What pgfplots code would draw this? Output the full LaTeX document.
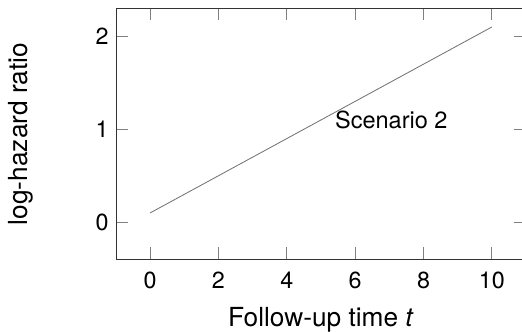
\documentclass[border=0pt]{standalone}
\usepackage{fontspec}
\setmainfont{TeX Gyre Heros}
\usepackage{pgfplots}
\pgfplotsset{compat=1.18}
\begin{document}
\begin{tikzpicture}
\begin{axis}[
  scale only axis, width=195.2pt, height=119.5pt,
  xmin=-1, xmax=11, ymin=-0.4, ymax=2.3,
  xtick={0,2,...,10}, ytick={0,1,2},
  major tick length=5.7pt,
  /pgf/number format/assume math mode=true,
  tick label style={font=\fontsize{11.1}{13}\selectfont},
  label style={font=\fontsize{12.5}{15}\selectfont},
  xticklabel style={anchor=base, yshift=-13.8pt},
  xlabel={Follow-up time \textit{t}},
  ylabel={log-hazard ratio},
  xlabel style={at={(axis description cs:0.5,-0.2685)}, anchor=base},
  ylabel style={at={(axis description cs:-0.2317,0.5)}, anchor=center},
  axis line style={black!80},
  every tick/.style={black!50},
]
\addplot[black!55, no marks] coordinates {(0,0.1) (10,2.1)};
\node[anchor=west, font=\fontsize{11.2}{13}\selectfont, inner sep=0pt] at (axis cs:5.4,1.1) {Scenario 2};
\end{axis}
\pgfresetboundingbox
\path[use as bounding box] ([xshift=-55.2pt,yshift=-34.1pt]current axis.south west) rectangle ([xshift=-1.9pt,yshift=4pt]current axis.north east);
\end{tikzpicture}
\end{document}
